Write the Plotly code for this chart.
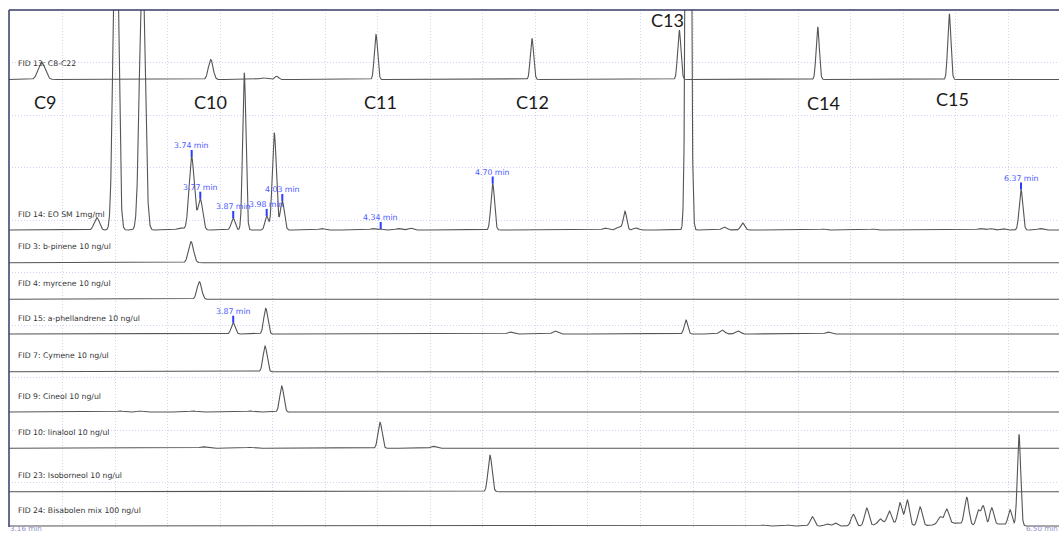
import numpy as np
import plotly.graph_objects as go

# Retention-time window shown (min) and the end labels of the time axis
t_start = 3.1638
t_end = 6.4940
time_label_left = 3.16
time_label_right = 6.50

# ---- Peak tables: retention time (min), height (response units), width sd (min) ----
# FID 13: C8-C22 alkane standard
fid13_rt = [3.2675, 3.8035, 3.9694, 4.0128, 4.3278, 4.8225, 5.2897, 5.7287, 6.1461]
fid13_h = [17.0, 20.0, 1.5, 3.3, 45.0, 41.0, 49.3, 52.7, 65.7]
fid13_sd = [0.0110, 0.0073, 0.0120, 0.0060, 0.0052, 0.0052, 0.0052, 0.0050, 0.0050]
alkane_names = ["C9", "C10", None, None, "C11", "C12", "C13", "C14", "C15"]

# FID 14: EO SM 1mg/ml
fid14_rt = [3.4420, 3.5025, 3.5866, 3.7061, 3.7432, 3.7705, 3.8749, 3.9101, 3.9811,
            4.0052, 4.0306, 4.1556, 4.3173, 4.3427, 4.3976, 4.4356, 4.6979, 5.0541,
            5.0985, 5.1175, 5.1524, 5.3183, 5.4324, 5.4908, 5.7455, 5.9041, 6.2434,
            6.2751, 6.3164, 6.3735, 6.4337]
fid14_h = [12.5, 365.0, 280.0, 2.0, 73.0, 31.0, 12.0, 157.0, 14.0,
           97.0, 29.0, 1.5, 1.5, 1.0, 1.5, 2.0, 46.5, 2.0,
           3.0, 18.5, 2.0, 1000.0, 3.0, 7.0, 1.0, 1.0, 1.5,
           1.5, 1.5, 40.5, 1.5]
fid14_sd = [0.0080, 0.0079, 0.0086, 0.0100, 0.0082, 0.0073, 0.0063, 0.0052, 0.0055,
            0.0063, 0.0063, 0.0080, 0.0080, 0.0060, 0.0080, 0.0080, 0.0057, 0.0080,
            0.0090, 0.0054, 0.0080, 0.0061, 0.0080, 0.0063, 0.0080, 0.0080, 0.0080,
            0.0080, 0.0080, 0.0057, 0.0080]
fid14_marked = [3.7432, 3.7705, 3.8749, 3.9811, 4.0306, 4.3427, 4.6979, 6.3735]

# FID 3: b-pinene 10 ng/ul
fid3_rt = [3.7410]
fid3_h = [21.0]
fid3_sd = [0.0079]

# FID 4: myrcene 10 ng/ul
fid4_rt = [3.7674]
fid4_h = [17.6]
fid4_sd = [0.0073]

# FID 15: a-phellandrene 10 ng/ul
fid15_rt = [3.8749, 3.9780, 4.7528, 4.8955, 5.3110, 5.4252, 5.4759, 5.7613]
fid15_h = [11.3, 25.7, 2.0, 3.0, 14.0, 4.0, 3.0, 2.0]
fid15_sd = [0.0063, 0.0063, 0.0080, 0.0080, 0.0057, 0.0080, 0.0080, 0.0080]
fid15_marked = [3.8749]

# FID 7: Cymene 10 ng/ul
fid7_rt = [3.9757]
fid7_h = [25.7]
fid7_sd = [0.0063]

# FID 9: Cineol 10 ng/ul
fid9_rt = [3.5158, 3.5793, 3.7474, 3.9282, 4.0287]
fid9_h = [1.0, 1.0, 1.0, 1.0, 26.0]
fid9_sd = [0.0100, 0.0100, 0.0100, 0.0100, 0.0063]

# FID 10: linalool 10 ng/ul
fid10_rt = [3.7791, 3.9282, 4.3405, 4.5086]
fid10_h = [1.5, 1.0, 26.0, 2.0]
fid10_sd = [0.0100, 0.0100, 0.0063, 0.0080]

# FID 23: Isoborneol 10 ng/ul
fid23_rt = [4.6893]
fid23_h = [36.5]
fid23_sd = [0.0063]

# FID 24: Bisabolen mix 100 ng/ul
fid24_rt = [5.5552, 5.6345, 5.7115, 5.7572, 5.7835, 5.8416, 5.8841, 5.9263, 5.9558,
            5.9897, 6.0128, 6.0531, 6.1166, 6.1378, 6.2012, 6.2380, 6.2539, 6.2805,
            6.3386, 6.3671, 5.9500, 6.1500, 6.3000]
fid24_h = [1.0, 1.0, 9.3, 2.0, 3.0, 11.7, 17.7, 5.0, 12.0,
           22.0, 25.5, 19.0, 7.0, 14.0, 27.5, 15.0, 19.5, 17.0,
           16.0, 91.7, 3.0, 3.0, 2.0]
fid24_sd = [0.0080, 0.0080, 0.0068, 0.0068, 0.0068, 0.0068, 0.0068, 0.0068, 0.0068,
            0.0068, 0.0068, 0.0070, 0.0068, 0.0068, 0.0068, 0.0062, 0.0062, 0.0062,
            0.0062, 0.0053, 0.0300, 0.0400, 0.0200]

channel_names = [
    "FID 13: C8-C22", "FID 14: EO SM 1mg/ml", "FID 3: b-pinene 10 ng/ul",
    "FID 4: myrcene 10 ng/ul", "FID 15: a-phellandrene 10 ng/ul", "FID 7: Cymene 10 ng/ul",
    "FID 9: Cineol 10 ng/ul", "FID 10: linalool 10 ng/ul", "FID 23: Isoborneol 10 ng/ul",
    "FID 24: Bisabolen mix 100 ng/ul",
]
peak_tables = [
    (fid13_rt, fid13_h, fid13_sd), (fid14_rt, fid14_h, fid14_sd),
    (fid3_rt, fid3_h, fid3_sd), (fid4_rt, fid4_h, fid4_sd),
    (fid15_rt, fid15_h, fid15_sd), (fid7_rt, fid7_h, fid7_sd),
    (fid9_rt, fid9_h, fid9_sd), (fid10_rt, fid10_h, fid10_sd),
    (fid23_rt, fid23_h, fid23_sd), (fid24_rt, fid24_h, fid24_sd),
]
marked_peaks = {1: fid14_marked, 4: fid15_marked}

# ---- Layout of the stacked overlay (vertical offset of each channel's baseline) ----
baseline_offset = [447.5, 297.0, 264.3, 227.7, 193.0, 155.3, 115.0, 78.7, 35.3, 1.0]
alkane_label_shift = {"C9": (3, 425), "C10": (0, 425), "C11": (4.5, 425), "C12": (0.5, 425),
                      "C13": (-12, 507), "C14": (6, 424.5), "C15": (3, 428)}

W, H = 1059, 533
M_L, M_T, M_B = 9, 10, 6
Y_TOP = H - M_T - M_B

TRACE_COLOR = "#555555"
MARK_COLOR = "#2b3dff"
MARK_TEXT = "#4a5aff"
GRID_COLOR = "#d2d2f2"
FRAME_COLOR = "#343a66"

t = np.linspace(t_start, t_end, 7000)


def signal(times, rts, hs, sds):
    times = np.asarray(times, dtype=float)
    out = np.zeros_like(times)
    for rt, h, sd in zip(rts, hs, sds):
        out += h * np.exp(-0.5 * ((times - rt) / sd) ** 2)
    return out


fig = go.Figure()
annotations = []
shapes = []

for i, (name, (rts, hs, sds)) in enumerate(zip(channel_names, peak_tables)):
    base = baseline_offset[i]
    y = base + signal(t, rts, hs, sds)
    fig.add_trace(go.Scatter(x=t, y=y, mode="lines", name=name,
                             line=dict(color=TRACE_COLOR, width=1.1),
                             hoverinfo="skip", showlegend=False))
    annotations.append(dict(x=0, xref="paper", xshift=7, y=base + 16, yref="y",
                            text=name, showarrow=False, xanchor="left", yanchor="middle",
                            font=dict(family="DejaVu Sans", size=7.7, color="#333333")))
    for rt in marked_peaks.get(i, []):
        apex = base + float(signal([rt], rts, hs, sds)[0])
        shapes.append(dict(type="line", xref="x", yref="y", x0=rt, x1=rt,
                           y0=apex, y1=apex + 7, line=dict(color=MARK_COLOR, width=2)))
        annotations.append(dict(x=rt, y=apex + 7, xref="x", yref="y",
                                text=f"{rt:.2f} min", showarrow=False,
                                xanchor="center", yanchor="bottom", yshift=-2,
                                font=dict(family="DejaVu Sans", size=7.8, color=MARK_TEXT)))

# Alkane ladder labels
for rt, nm in zip(fid13_rt, alkane_names):
    if nm is None:
        continue
    dx, ypos = alkane_label_shift[nm]
    annotations.append(dict(x=rt, xshift=dx, y=ypos, xref="x", yref="y", text=nm,
                            showarrow=False, xanchor="center", yanchor="middle",
                            font=dict(family="Lato, Liberation Sans", size=18, color="#1a1a1a")))

# Time-window end labels, tucked into the bottom strip
end_font = dict(family="DejaVu Sans", size=7.2, color="#8f8fcc")
annotations.append(dict(x=0, y=0, xref="paper", yref="paper", text=f"{time_label_left:.2f} min",
                        showarrow=False, xanchor="left", yanchor="bottom", yshift=-M_B - 1,
                        borderpad=0, font=end_font))
annotations.append(dict(x=1, y=0, xref="paper", yref="paper", text=f"{time_label_right:.2f} min",
                        showarrow=False, xanchor="right", yanchor="bottom", yshift=-M_B - 1,
                        borderpad=0, font=end_font))

# Frame: top and left edges
shapes.append(dict(type="line", xref="paper", yref="paper", x0=0, x1=1, y0=1, y1=1,
                   line=dict(color=FRAME_COLOR, width=1.5)))
shapes.append(dict(type="line", xref="paper", yref="paper", x0=0, x1=0, y0=0, y1=1,
                   line=dict(color=FRAME_COLOR, width=1.5)))

fig.update_layout(
    width=W, height=H, autosize=False,
    margin=dict(l=M_L, r=0, t=M_T, b=M_B, pad=0),
    paper_bgcolor="white", plot_bgcolor="white",
    showlegend=False,
    annotations=annotations, shapes=shapes,
    xaxis=dict(range=[t_start, t_end], showticklabels=False, ticks="", zeroline=False,
               showline=False, showgrid=True, gridcolor=GRID_COLOR, griddash="1px,2px",
               gridwidth=1, tick0=3.5, dtick=1 / 6),
    yaxis=dict(range=[0, Y_TOP], showticklabels=False, ticks="", zeroline=False,
               showline=False, showgrid=True, gridcolor=GRID_COLOR, griddash="1px,2px",
               gridwidth=1, tick0=44.5, dtick=52.5),
)

fig.write_html("out.html")
